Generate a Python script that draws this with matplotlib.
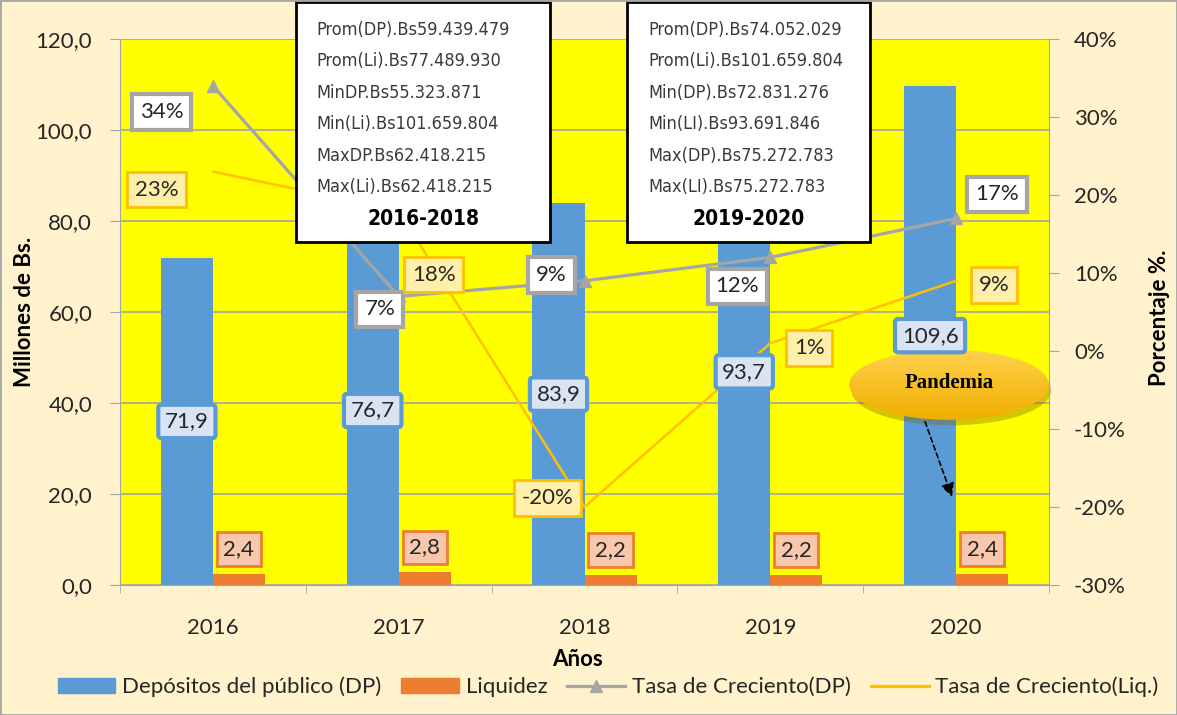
import matplotlib.pyplot as plt
import matplotlib.font_manager as fm
import numpy as np
from matplotlib.patches import Rectangle, Ellipse, Patch
from matplotlib.lines import Line2D
from matplotlib.ticker import FuncFormatter
from matplotlib.colors import LinearSegmentedColormap

plt.rcParams['font.family'] = ['Lato', 'DejaVu Sans']

# datos
anios = ['2016', '2017', '2018', '2019', '2020']
depositos = [71.9, 76.7, 83.9, 93.7, 109.6]
liquidez = [2.4, 2.8, 2.2, 2.2, 2.4]
tasa_dp = [34, 7, 9, 12, 17]
tasa_liq = [23, 18, -20, 1, 9]

texto_1 = ['Prom(DP).Bs59.439.479', 'Prom(Li).Bs77.489.930', 'MinDP.Bs55.323.871',
           'Min(Li).Bs101.659.804', 'MaxDP.Bs62.418.215', 'Max(Li).Bs62.418.215']
titulo_1 = '2016-2018'
texto_2 = ['Prom(DP).Bs74.052.029', 'Prom(Li).Bs101.659.804', 'Min(DP).Bs72.831.276',
           'Min(LI).Bs93.691.846', 'Max(DP).Bs75.272.783', 'Max(LI).Bs75.272.783']
titulo_2 = '2019-2020'

AZUL = '#5B9BD5'
NARANJA = '#ED7D31'
GRIS = '#A5A5A5'
ORO = '#FFC000'
FONDO = '#FFF2CC'
TXT = '#262626'

W, H = 1177, 715


def px(x, y):
    # pixeles de la imagen -> fraccion de figura
    return x / W, 1 - y / H


# fuente estrecha para los cuadros de texto
nombres = {f.name for f in fm.fontManager.ttflist}
if 'Liberation Sans Narrow' in nombres:
    fuente_caja = dict(family='Liberation Sans Narrow', size=15)
else:
    fuente_caja = dict(family='DejaVu Sans', stretch='condensed', size=13)

fig = plt.figure(figsize=(W / 100, H / 100), dpi=100, facecolor=FONDO)
x0, y1 = px(120, 585)
x1, y0 = px(1049, 39)
ax = fig.add_axes([x0, y1, x1 - x0, y0 - y1])
ax.set_facecolor('#FFFF00')
ax2 = ax.twinx()

x = np.arange(len(anios))
bw = 0.28
ax.bar(x - bw / 2, depositos, bw, color=AZUL, zorder=2)
ax.bar(x + bw / 2, liquidez, bw, color=NARANJA, zorder=2)

ax.set_xlim(-0.5, 4.5)
ax.set_ylim(0, 120)
ax.set_yticks(np.arange(0, 121, 20))
ax.yaxis.set_major_formatter(FuncFormatter(lambda v, p: f'{v:.1f}'.replace('.', ',')))
ax.set_xticks(x)
ax.set_xticklabels(anios)
ax.set_xticks(np.arange(-0.5, 5, 1), minor=True)
ax.tick_params(axis='x', which='major', length=0, pad=24, labelsize=16, labelcolor=TXT)
ax.tick_params(axis='x', which='minor', length=6, color=GRIS)
ax.tick_params(axis='y', length=7, color=GRIS, pad=13, labelsize=16, labelcolor=TXT)
ax.yaxis.grid(True, color='#A6A6A6', lw=1.2)
ax.set_axisbelow(True)
for s in ['top', 'right']:
    ax.spines[s].set_visible(False)
for s in ['left', 'bottom']:
    ax.spines[s].set_color(GRIS)

ax2.plot(x, tasa_dp, color=GRIS, lw=2.3, marker='^', ms=9, zorder=3)
ax2.plot(x, tasa_liq, color=ORO, lw=1.8, zorder=3)
ax2.set_ylim(-30, 40)
ax2.set_yticks(np.arange(-30, 41, 10))
ax2.yaxis.set_major_formatter(FuncFormatter(lambda v, p: f'{int(round(v))}%'))
ax2.tick_params(axis='y', length=7, color=GRIS, pad=11, labelsize=16, labelcolor=TXT)
for s in ['top', 'left', 'bottom']:
    ax2.spines[s].set_visible(False)
ax2.spines['right'].set_color(GRIS)

# etiquetas (desplazamientos en pixeles -> puntos)
k = 72 / 100
off_dp = [(-51, -26), (-19, -13), (-33, 6), (-33, -29), (41, 24)]
off_liq = [(-56, -18), (35, -64), (-37, 9), (39, -5), (38, -4)]

for i, v in enumerate(tasa_dp):
    dx, dy = off_dp[i]
    ax2.annotate(f'{v}%', (x[i], v), xytext=(dx * k, dy * k), textcoords='offset points',
                 ha='center', va='center', fontsize=16, color=TXT, zorder=6,
                 bbox=dict(boxstyle='square,pad=0.35', fc='white', ec=GRIS, lw=3))
for i, v in enumerate(tasa_liq):
    dx, dy = off_liq[i]
    ax2.annotate(f'{v}%', (x[i], v), xytext=(dx * k, dy * k), textcoords='offset points',
                 ha='center', va='center', fontsize=16, color=TXT, zorder=6,
                 bbox=dict(boxstyle='square,pad=0.35', fc='#FFEFA8', ec=ORO, lw=2))
for i, v in enumerate(depositos):
    ax2.annotate(f'{v:.1f}'.replace('.', ','), (x[i] - bw / 2, v / 2), xycoords=ax.transData,
                 ha='center', va='center', fontsize=16, color=TXT, zorder=6,
                 bbox=dict(boxstyle='round,pad=0.3,rounding_size=0.15', fc='#DAE3F3', ec=AZUL, lw=3))
for i, v in enumerate(liquidez):
    ax2.annotate(f'{v:.1f}'.replace('.', ','), (x[i] + bw / 2, v), xycoords=ax.transData,
                 xytext=(0, 25 * k), textcoords='offset points',
                 ha='center', va='center', fontsize=16, color=TXT, zorder=6,
                 bbox=dict(boxstyle='square,pad=0.3', fc='#F9C8AC', ec=NARANJA, lw=2))

# globo "Pandemia"
ex, ey, ew, eh = 3.962, 44.0, 1.075, 15.4
sombra = Ellipse((ex + 0.012, ey - 1.2), ew, eh, fc='#806000', alpha=0.35, ec='none',
                 zorder=7, clip_on=False)
ax.add_patch(sombra)
elipse = Ellipse((ex, ey), ew, eh, fc='none', ec='none', zorder=8, clip_on=False)
ax.add_patch(elipse)
grad = np.linspace(0, 1, 100).reshape(-1, 1)
cm_oro = LinearSegmentedColormap.from_list('oro', ['#FFD24D', '#F0AE00'])
im = ax.imshow(grad, cmap=cm_oro, extent=(ex - ew / 2, ex + ew / 2, ey - eh / 2, ey + eh / 2),
               origin='upper', aspect='auto', zorder=8)
im.set_clip_box(None)
im.set_clip_path(elipse)
ax.text(ex, ey + 0.4, 'Pandemia', ha='center', va='center', fontsize=15, fontweight='bold',
        family='Liberation Serif', zorder=9)
ax.annotate('', xy=(3.978, 19.4), xytext=(3.833, 35.9),
            arrowprops=dict(arrowstyle='-|>', linestyle=(0, (3, 2)), color='black', lw=1.2,
                            mutation_scale=20, shrinkA=0, shrinkB=0), zorder=9)
ax.set_xlim(-0.5, 4.5)
ax.set_ylim(0, 120)

# cuadros de texto
titulo_caja = dict(fuente_caja)
titulo_caja['size'] = fuente_caja['size'] + 2
for (xa, xb), lineas, tit, xl in [((296, 550), texto_1, titulo_1, 316),
                                   ((627, 870), texto_2, titulo_2, 648)]:
    a, b = px(xa, 242)
    c, d = px(xb, 2)
    fig.patches.append(Rectangle((a, b), c - a, d - b, transform=fig.transFigure,
                                 fc='white', ec='black', lw=2, zorder=10))
    for j, t in enumerate(lineas):
        fig.text(*px(xl, 30 + 31.4 * j), t, ha='left', va='center', color='#3A3A3A',
                 zorder=11, **fuente_caja)
    fig.text(*px((xa + xb) / 2, 219), tit, ha='center', va='center', color='black',
             fontweight='bold', zorder=11, **titulo_caja)

# titulos de ejes
fig.text(*px(25, 312), 'Millones de Bs.', rotation=90, ha='center', va='center',
         fontsize=16, fontweight='bold', color='black')
fig.text(*px(1160, 318), 'Porcentaje %.', rotation=90, ha='center', va='center',
         fontsize=16, fontweight='bold', color='black')
fig.text(*px(577, 660), 'Años', ha='center', va='center', fontsize=16, fontweight='bold',
         color='black')

# leyenda
handles = [Patch(color=AZUL), Patch(color=NARANJA),
           Line2D([], [], color=GRIS, lw=2.3, marker='^', ms=9),
           Line2D([], [], color=ORO, lw=2.3)]
labels = ['Depósitos del público (DP)', 'Liquidez', 'Tasa de Creciento(DP)', 'Tasa de Creciento(Liq.)']
fig.legend(handles, labels, loc='center', bbox_to_anchor=px(608, 687), ncol=4, frameon=False,
           fontsize=16, handlelength=2.6, handletextpad=0.3, columnspacing=0.9,
           labelcolor=TXT)

fig.patches.append(Rectangle((0, 0), 1, 1, transform=fig.transFigure, fill=False,
                             ec='#A6A6A6', lw=2, zorder=20))

fig.savefig('out.png', dpi=100, facecolor=FONDO)
